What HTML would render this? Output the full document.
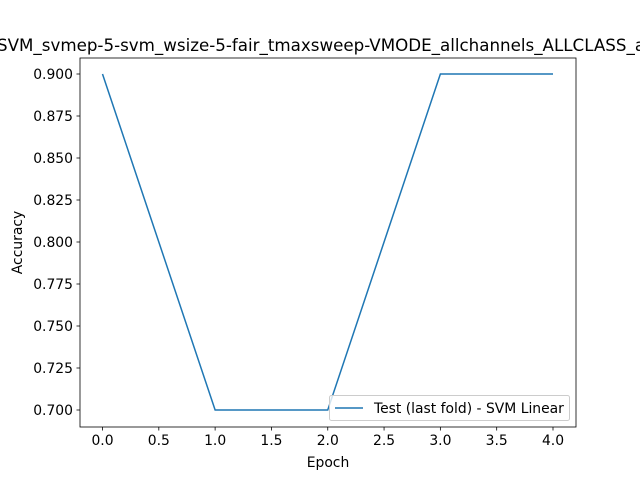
<!DOCTYPE html>
<html><head><meta charset="utf-8"><style>
html,body{margin:0;padding:0;background:#fff;}
svg{display:block;font-family:"DejaVu Sans","Liberation Sans",sans-serif;}
</style></head><body>
<svg id="chart" width="640" height="480" xmlns="http://www.w3.org/2000/svg">
<rect width="640" height="480" fill="#fff"/>
<text x="-3" y="51" font-size="16.7" fill="#000">SVM_svmep-5-svm_wsize-5-fair_tmaxsweep-VMODE_allchannels_ALLCLASS_acc</text>
<g id="axes"></g>
</svg>
<script>
const epochs = [0, 1, 2, 3, 4];
const accuracy = [0.9, 0.7, 0.7, 0.9, 0.9];
const xTicks = [0, 0.5, 1, 1.5, 2, 2.5, 3, 3.5, 4];
const xTickLabels = ["0.0","0.5","1.0","1.5","2.0","2.5","3.0","3.5","4.0"];
const yTicks = [0.7, 0.725, 0.75, 0.775, 0.8, 0.825, 0.85, 0.875, 0.9];
const yTickLabels = ["0.700","0.725","0.750","0.775","0.800","0.825","0.850","0.875","0.900"];

const NS = "http://www.w3.org/2000/svg";
const L = 80, R = 576, T = 58, B = 427;
const xs = v => 102.5 + (v - 0) * (553 - 102.5) / 4;
const ys = v => 410 - (v - 0.7) * (410 - 74) / 0.2;
const g = document.getElementById('axes');
function mk(tag, attrs) { const e = document.createElementNS(NS, tag); for (const k in attrs) e.setAttribute(k, attrs[k]); g.appendChild(e); return e; }

xTicks.forEach((t, i) => {
  const x = xs(t);
  const tk = mk('line', {x1: x, x2: x, y1: B, y2: B + 3.5, stroke: '#000', 'stroke-width': 0.8});
  
  
  const lb = mk('text', {x: x, y: B + 18, 'font-size': 13.9, 'text-anchor': 'middle'});
  lb.textContent = xTickLabels[i];
  
  
});
yTicks.forEach((t, i) => {
  const y = ys(t);
  const tk = mk('line', {x1: L - 3.5, x2: L, y1: y, y2: y, stroke: '#000', 'stroke-width': 0.8});
  
  
  const lb = mk('text', {x: L - 7, y: y + 5, 'font-size': 13.9, 'text-anchor': 'end'});
  lb.textContent = yTickLabels[i];
  
  
});

const line = mk('polyline', {points: epochs.map((e, i) => xs(e) + ',' + ys(accuracy[i])).join(' '), fill: 'none', stroke: '#1f77b4', 'stroke-width': 1.5});



const frame = mk('rect', {x: L, y: T, width: R - L, height: B - T, fill: 'none', stroke: '#000', 'stroke-width': 0.8});



const xl = mk('text', {x: (L + R) / 2, y: 467, 'font-size': 13.9, 'text-anchor': 'middle'});
xl.textContent = 'Epoch';


const yl = mk('text', {x: 22, y: (T + B) / 2, 'font-size': 13.9, 'text-anchor': 'middle', transform: 'rotate(-90 22 ' + (T + B) / 2 + ')'});
yl.textContent = 'Accuracy';



const lg = mk('rect', {x: 329.5, y: 395.5, width: 240, height: 25, rx: 2, fill: '#fff', 'fill-opacity': 0.8, stroke: '#ccc', 'stroke-width': 1});


const ll = mk('line', {x1: 335, x2: 363, y1: 408, y2: 408, stroke: '#1f77b4', 'stroke-width': 1.5});


const lt = mk('text', {x: 374, y: 413, 'font-size': 13.9});
lt.textContent = 'Test (last fold) - SVM Linear';


</script>
</body></html>
